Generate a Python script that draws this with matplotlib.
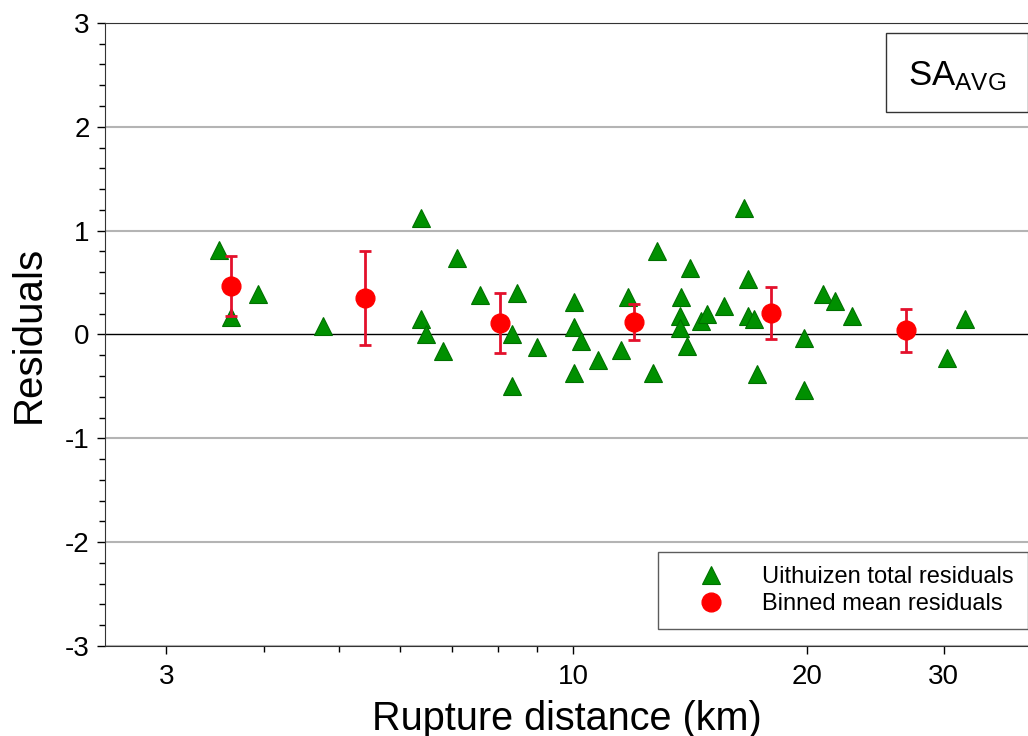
import numpy as np
import matplotlib
matplotlib.use('Agg')
import matplotlib.pyplot as plt
from matplotlib.patches import Rectangle
from matplotlib.ticker import FixedLocator, NullFormatter, MultipleLocator

plt.rcParams['font.family'] = ['Liberation Sans', 'DejaVu Sans']
plt.rcParams['mathtext.fontset'] = 'custom'
plt.rcParams['mathtext.rm'] = 'Liberation Sans'
plt.rcParams['mathtext.it'] = 'Liberation Sans'
plt.rcParams['axes.unicode_minus'] = False

# Uithuizen total residuals
dist = [3.51, 3.63, 3.93, 4.77, 6.38, 6.38, 6.47, 6.81, 7.10, 7.60,
        8.35, 8.35, 8.47, 8.99, 10.03, 10.03, 10.03, 10.24, 10.77, 11.53,
        11.77, 12.67, 12.82, 14.14, 13.76, 13.72, 13.72, 14.01, 14.6, 14.87,
        15.63, 16.58, 16.78, 16.78, 17.09, 17.25, 19.82, 19.82, 21.0, 21.76,
        22.84, 30.3, 31.9]
resid = [0.81, 0.17, 0.39, 0.08, 1.12, 0.15, 0.0, -0.16, 0.74, 0.38,
         -0.50, 0.0, 0.40, -0.12, 0.31, 0.07, -0.37, -0.06, -0.25, -0.15,
         0.36, -0.37, 0.80, 0.64, 0.36, 0.18, 0.06, -0.11, 0.13, 0.20,
         0.27, 1.22, 0.53, 0.18, 0.15, -0.38, -0.03, -0.53, 0.39, 0.32,
         0.18, -0.23, 0.15]

# binned means with error bars
bin_dist = [3.63, 5.40, 8.05, 12.0, 17.97, 26.8]
bin_mean = [0.47, 0.35, 0.11, 0.12, 0.21, 0.04]
bin_err = [0.29, 0.45, 0.29, 0.17, 0.25, 0.21]

fig = plt.figure(figsize=(10.28, 7.36), dpi=100)
ax = fig.add_axes([0.102, 0.1223, 0.898, 0.8465])

for y in [-3, -2, -1, 1, 2, 3]:
    ax.axhline(y, color='#b4b4b4', lw=1.5, zorder=0)
ax.axhline(0, color='black', lw=1.0, zorder=1)

ax.plot(dist, resid, linestyle='none', marker='^', ms=13, color='#009000',
        mec='#007000', mew=0.8, label='Uithuizen total residuals', zorder=3)
ax.errorbar(bin_dist, bin_mean, yerr=bin_err, fmt='none', ecolor='#e3102c',
            elinewidth=2, capsize=4.5, capthick=2, zorder=4)
ax.plot(bin_dist, bin_mean, linestyle='none', marker='o', ms=13.5, color='red',
        label='Binned mean residuals', zorder=5)

ax.set_xscale('log')
ax.set_xlim(2.5, 38.5)
ax.set_ylim(-3, 3)
ax.xaxis.set_major_locator(FixedLocator([3, 10, 20, 30]))
ax.xaxis.set_major_formatter(matplotlib.ticker.FixedFormatter(['3', '10', '20', '30']))
ax.xaxis.set_minor_locator(FixedLocator([4, 5, 6, 7, 8, 9, 40]))
ax.xaxis.set_minor_formatter(NullFormatter())
ax.yaxis.set_major_locator(MultipleLocator(1))
ax.yaxis.set_minor_locator(MultipleLocator(0.2))

ax.tick_params(axis='both', which='major', labelsize=20, length=6, width=1, direction='out')
ax.tick_params(axis='both', which='minor', length=4, width=1, direction='out')
ax.tick_params(axis='x', pad=7)
ax.tick_params(axis='y', pad=5)

ax.spines['right'].set_visible(False)
for s in ['left', 'bottom', 'top']:
    ax.spines[s].set_color('#333333')

ax.set_xlabel('Rupture distance (km)', fontsize=28.5, labelpad=7)
ax.set_ylabel('Residuals', fontsize=29, labelpad=12)

leg = ax.legend(loc='lower right', bbox_to_anchor=(1.0, 0.027), fontsize=17,
                frameon=True, fancybox=False, edgecolor='#333333', borderaxespad=0,
                handletextpad=0.5, borderpad=0.6, labelspacing=0.22, handlelength=3.3)
leg.get_frame().set_linewidth(1.0)

ax.add_patch(Rectangle((0.846, 0.857), 0.154, 0.127, transform=ax.transAxes,
                       facecolor='white', edgecolor='#333333', lw=1.0, zorder=6))
ax.text(0.923, 0.915, r'SA$_{\mathrm{AVG}}$', transform=ax.transAxes,
        fontsize=25, ha='center', va='center', zorder=7)

fig.savefig('out.png', dpi=100)
